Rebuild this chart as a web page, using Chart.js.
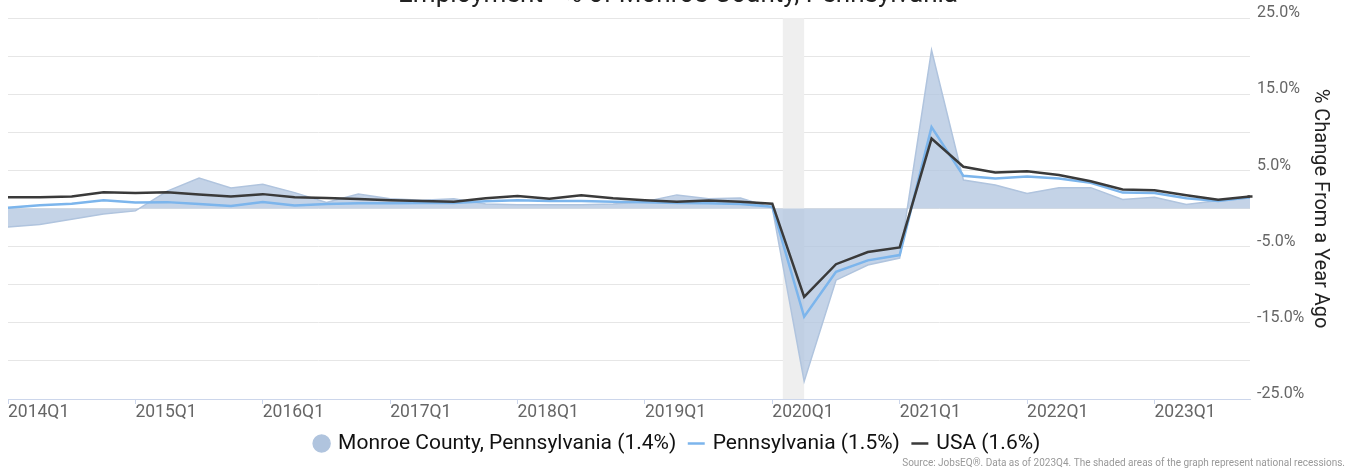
<!DOCTYPE html>
<html>
<head>
<meta charset="utf-8">
<script src="https://cdn.jsdelivr.net/npm/chart.js@4"></script>
<style>
    html, body { margin: 0; padding: 0; background: #fff; overflow: hidden; }
    #wrap { position: relative; width: 1348px; height: 472px; overflow: hidden; }
    #jobsChart { position: absolute; left: 0; top: -20px; }
</style>
</head>
<body>
<div id="wrap">
    <canvas id="jobsChart" width="1348" height="492"></canvas>
</div>
<script>
// Quarters shown on the x axis
const quarters = [
    '2014Q1', '2014Q2', '2014Q3', '2014Q4',
    '2015Q1', '2015Q2', '2015Q3', '2015Q4',
    '2016Q1', '2016Q2', '2016Q3', '2016Q4',
    '2017Q1', '2017Q2', '2017Q3', '2017Q4',
    '2018Q1', '2018Q2', '2018Q3', '2018Q4',
    '2019Q1', '2019Q2', '2019Q3', '2019Q4',
    '2020Q1', '2020Q2', '2020Q3', '2020Q4',
    '2021Q1', '2021Q2', '2021Q3', '2021Q4',
    '2022Q1', '2022Q2', '2022Q3', '2022Q4',
    '2023Q1', '2023Q2', '2023Q3', '2023Q4'
];

// % change from a year ago
const monroeValues = [
    -2.4, -2.1, -1.4, -0.7, -0.3, 2.3, 4.0, 2.7,
    3.2, 2.1, 0.8, 1.9, 1.3, 1.1, 1.3, 0.6,
    0.5, 0.5, 0.5, 0.6, 0.9, 1.8, 1.3, 1.4,
    0.1, -22.7, -9.4, -7.4, -6.5, 20.8, 3.75, 3.1,
    2.0, 2.75, 2.75, 1.2, 1.5, 0.55, 1.05, 1.4
];
const pennsylvaniaValues = [
    0.1, 0.45, 0.65, 1.1, 0.8, 0.85, 0.6, 0.35,
    0.85, 0.4, 0.6, 0.7, 0.7, 0.75, 0.75, 0.95,
    1.1, 1.0, 1.0, 0.9, 0.85, 0.75, 0.7, 0.6,
    0.25, -14.2, -8.3, -6.8, -6.1, 10.7, 4.3, 3.95,
    4.2, 3.95, 3.4, 2.1, 2.05, 1.35, 1.0, 1.5
];
const usaValues = [
    1.5, 1.5, 1.6, 2.15, 2.05, 2.15, 1.85, 1.6,
    1.9, 1.5, 1.4, 1.25, 1.1, 1.0, 0.9, 1.35,
    1.65, 1.3, 1.75, 1.35, 1.1, 0.9, 1.05, 0.9,
    0.65, -11.6, -7.3, -5.7, -5.1, 9.2, 5.5, 4.75,
    4.9, 4.4, 3.6, 2.5, 2.4, 1.75, 1.15, 1.6
];

const seriesNames = [
    'Monroe County, Pennsylvania (1.4%)',
    'Pennsylvania (1.5%)',
    'USA (1.6%)'
];

// National recession (Feb 2020 - Apr 2020), as quarter index positions
const recessionStart = 24.33;
const recessionEnd = 25;

const chartTitle = 'Employment - % of Monroe County, Pennsylvania';
const axisTitle = '% Change From a Year Ago';
const sourceNote = 'Source: JobsEQ\u00AE. Data as of 2023Q4. The shaded areas of the graph represent national recessions.';

const areaLegendColor = '#b0c4de';

// Grey band for the recession, drawn over the grid but under the series
const recessionBand = {
    id: 'recessionBand',
    beforeDatasetsDraw(chart) {
        const { ctx, chartArea, scales } = chart;
        const x1 = scales.x.getPixelForValue(recessionStart);
        const x2 = scales.x.getPixelForValue(recessionEnd);
        ctx.save();
        ctx.fillStyle = '#efefef';
        ctx.fillRect(x1, chartArea.top, x2 - x1, chartArea.bottom - chartArea.top);
        ctx.restore();
    }
};

// Small source line in the bottom right corner
const sourceLine = {
    id: 'sourceLine',
    afterDraw(chart) {
        const ctx = chart.ctx;
        ctx.save();
        ctx.font = '10px Roboto';
        ctx.fillStyle = '#999';
        ctx.textAlign = 'right';
        ctx.textBaseline = 'middle';
        ctx.fillText(sourceNote, chart.width - 3, chart.height - 9);
        ctx.restore();
    }
};

document.addEventListener('DOMContentLoaded', () => {
    Chart.defaults.font.family = 'Roboto';
    const ctx = document.getElementById('jobsChart').getContext('2d');
    new Chart(ctx, {
        type: 'line',
        data: {
            labels: quarters,
            datasets: [{
                label: seriesNames[0],
                data: monroeValues,
                fill: 'origin',
                backgroundColor: 'rgba(176, 196, 222, 0.74)',
                borderColor: 'rgba(176, 196, 222, 1)',
                borderWidth: 1.5,
                pointRadius: 0,
                pointStyle: 'circle',
                order: 3
            }, {
                label: seriesNames[1],
                data: pennsylvaniaValues,
                fill: false,
                borderColor: '#7cb5ec',
                backgroundColor: '#7cb5ec',
                borderWidth: 2.5,
                pointRadius: 0,
                pointStyle: 'line',
                order: 2
            }, {
                label: seriesNames[2],
                data: usaValues,
                fill: false,
                borderColor: '#3a3a3a',
                backgroundColor: '#3a3a3a',
                borderWidth: 2.5,
                pointRadius: (c) => c.dataIndex === usaValues.length - 1 ? 2.5 : 0,
                pointStyle: 'line',
                order: 1
            }]
        },
        options: {
            responsive: false,
            animation: false,
            devicePixelRatio: 1,
            layout: {
                padding: { left: 8, right: 0, top: 0, bottom: 8 }
            },
            plugins: {
                title: {
                    display: true,
                    text: chartTitle,
                    color: '#222',
                    font: { size: 26, weight: 'normal' },
                    padding: { top: 0, bottom: 7 }
                },
                legend: {
                    position: 'bottom',
                    labels: {
                        usePointStyle: true,
                        boxWidth: 12,
                        boxHeight: 12,
                        padding: 14,
                        color: '#111',
                        font: { size: 21 },
                        sort: (a, b) => a.datasetIndex - b.datasetIndex,
                        generateLabels(chart) {
                            const items = Chart.defaults.plugins.legend.labels.generateLabels(chart);
                            items.forEach((it) => {
                                if (it.datasetIndex === 0) {
                                    it.fillStyle = areaLegendColor;
                                    it.strokeStyle = areaLegendColor;
                                }
                            });
                            return items;
                        }
                    }
                },
                tooltip: { enabled: false }
            },
            scales: {
                x: {
                    offset: false,
                    grid: {
                        drawOnChartArea: false,
                        drawTicks: true,
                        tickLength: 5,
                        color: (c) => (c.tick && quarters[c.tick.value] && quarters[c.tick.value].endsWith('Q1')) ? '#ccd6eb' : 'rgba(0,0,0,0)'
                    },
                    border: { display: true, color: '#ccd6eb', width: 1 },
                    ticks: {
                        autoSkip: false,
                        maxRotation: 0,
                        minRotation: 0,
                        align: 'start',
                        padding: -2,
                        color: '#666',
                        font: { size: 17.5 },
                        callback: function (value) {
                            const q = this.getLabelForValue(value);
                            return q.endsWith('Q1') ? q : '';
                        }
                    },
                    afterFit: (scale) => { scale.height = 20; }
                },
                y: {
                    position: 'right',
                    min: -25,
                    max: 25,
                    grid: {
                        color: '#e6e6e6',
                        drawTicks: false
                    },
                    border: { display: false },
                    ticks: {
                        stepSize: 5,
                        padding: 7,
                        labelOffset: -5,
                        color: '#666',
                        font: { size: 16 },
                        callback: (v) => ((v + 25) % 10 === 0 ? v.toFixed(1) + '%' : '')
                    },
                    title: {
                        display: true,
                        text: axisTitle,
                        color: '#222',
                        font: { size: 20 },
                        padding: { top: 16, bottom: 3 }
                    },
                    afterFit: (scale) => { scale.width = 98; }
                }
            }
        },
        plugins: [recessionBand, sourceLine]
    });
});
</script>
</body>
</html>
